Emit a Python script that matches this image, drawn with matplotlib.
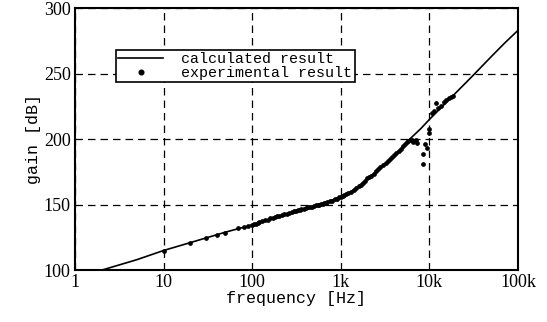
import matplotlib
matplotlib.use("Agg")
import matplotlib.pyplot as plt
from matplotlib.ticker import FixedLocator, FixedFormatter, NullFormatter

# calculated curve
f_calc = [2, 5, 10, 20, 50, 100, 200, 350, 500, 700, 1000, 1300, 1600, 2000,
          2500, 3000, 4000, 5000, 6000, 8000, 10000, 15000, 20000, 30000,
          50000, 70000, 100000]
gain_calc = [100, 108, 115, 121, 129, 134.5, 140.5, 145, 148.5, 152, 156, 160,
             164, 170, 175, 180, 187.5, 194, 200, 208, 215, 227, 235.5, 247.5,
             263, 273, 283]

# experimental points
f_exp = [10, 20, 30, 40, 50, 70, 80, 90, 100, 105, 110, 115, 120, 130, 140, 150,
         160, 170, 180, 190, 200, 215, 230, 245, 260, 280, 300, 315, 330, 345,
         360, 380, 400, 425, 450, 475, 500, 525, 550, 575, 600, 625, 650, 675,
         700, 750, 800, 850, 900, 950, 1000, 1050, 1100, 1150, 1200, 1300, 1400,
         1500, 1600, 1700, 1800, 1900, 2000, 2100, 2200, 2350, 2500, 2650, 2800,
         3000, 3200, 3400, 3600, 3800, 4000, 4250, 4500, 4750, 5000, 5300, 5600,
         5800, 6000, 6300, 6600, 7000, 7200,
         8400, 8400, 8900, 9300, 10000, 10000, 10600, 11200, 11900, 12500,
         13500, 14500, 15500, 16500, 17500, 18500]
gain_exp = [114.5, 120.5, 124.5, 127, 128.5, 132, 133, 134, 134.5, 135, 135.5,
            136, 136.5, 137.5, 138, 138.5, 139.5, 140, 140.5, 141, 141, 142,
            142.5, 143, 143.5, 144, 145, 145.5, 146, 146, 146.5, 147, 147.5,
            148, 148.5, 148.5, 149, 149.5, 149.5, 150, 150.5, 150.5, 151, 151.5,
            152, 152.5, 153, 154, 154.5, 155.5, 156, 156.5, 157, 158, 158.5,
            160, 161, 162.5, 164, 165, 166.5, 168, 170, 171, 172, 173.5, 175.5,
            177, 178.5, 180, 182, 183.5, 185, 186.5, 188, 189.5, 191, 192.5,
            194.5, 196.5, 198, 198.5, 199, 199.5, 198,
            199, 197, 189, 181, 196, 193, 205, 208, 220, 221.5, 227.5, 224,
            225.5, 228, 229.5, 231, 232, 233]

tick_pos = [1, 10, 100, 1000, 10000, 100000]
tick_lab = ["1", "10", "100", "1k", "10k", "100k"]
gain_ticks = [100, 150, 200, 250, 300]

fig = plt.figure(figsize=(5.47, 3.22), dpi=100)
ax = fig.add_axes([0.137, 0.161, 0.810, 0.814])

ax.plot(f_calc, gain_calc, color="black", lw=1.2, label="calculated result")
ax.plot(f_exp, gain_exp, ls="none", marker="o", ms=2.4, color="black",
        label="experimental result")

ax.set_xscale("log")
ax.set_xlim(1, 100000)
ax.set_ylim(100, 300)
ax.xaxis.set_major_locator(FixedLocator(tick_pos))
ax.xaxis.set_major_formatter(FixedFormatter(tick_lab))
ax.xaxis.set_minor_formatter(NullFormatter())
ax.set_yticks(gain_ticks)

ax.grid(True, which="major", color="black", ls=(0, (6, 4)), lw=0.9)
ax.tick_params(which="both", direction="in", length=2, width=0.6,
               labelsize=13, pad=3)
ax.tick_params(which="minor", length=0)
for lab in ax.get_xticklabels() + ax.get_yticklabels():
    lab.set_family("Liberation Serif")
for s in ax.spines.values():
    s.set_linewidth(1.5)

ax.set_xlabel("frequency [Hz]", family="Liberation Mono", fontsize=12, labelpad=0)
ax.set_ylabel("gain [dB]", family="Liberation Mono", fontsize=12, labelpad=2)

leg = ax.legend(loc="upper left", bbox_to_anchor=(0.093, 0.84), borderaxespad=0,
                prop={"family": "Liberation Mono", "size": 10.8}, fancybox=False,
                framealpha=1, edgecolor="black", handlelength=3.0,
                handletextpad=1.2, labelspacing=0.0, borderpad=0.15,
                markerscale=1.4)
leg.get_frame().set_linewidth(1.2)

fig.savefig("out.png", dpi=100)
